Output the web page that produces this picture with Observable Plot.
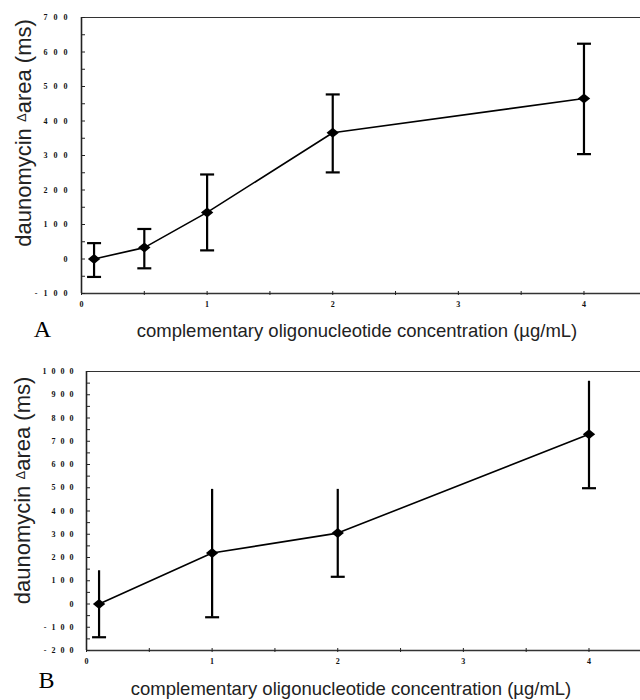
<!DOCTYPE html>
<html><head><meta charset="utf-8">
<script src="https://cdn.jsdelivr.net/npm/d3@7"></script>
<script src="https://cdn.jsdelivr.net/npm/@observablehq/plot@0.6"></script>
<style>
body{margin:0;background:#fff}
#chart{position:relative;width:640px;height:700px;overflow:hidden}
#chart svg{display:block}
</style>
</head><body><div id="chart"></div>
<script>
// Panel A data
const concA = [0.1, 0.5, 1, 2, 4];
const areaA = [0, 33, 135, 366, 465];
const hiA   = [46, 87, 245, 477, 624];
const loA   = [-52, -27, 25, 251, 304];
// Panel B data
const concB = [0.1, 1, 2, 4];
const areaB = [0, 219, 305, 730];
const hiB   = [143, 493, 493, 958];
const loB   = [-143, -57, 117, 498];
// ticks and labels
const yTicksA = [-100, 0, 100, 200, 300, 400, 500, 600, 700];
const yTicksB = [-200, -100, 0, 100, 200, 300, 400, 500, 600, 700, 800, 900, 1000];
const xTickLabels = [0, 1, 2, 3, 4];
const xMinorTicks = [0, 0.5, 1, 1.5, 2, 2.5, 3, 3.5, 4];
const xTitle = "complementary oligonucleotide concentration (µg/mL)";
const yTitle = "daunomycin Δarea (ms)";

const capSymbol = {draw(ctx){ ctx.moveTo(-7, 0); ctx.lineTo(7, 0); }};
const diamondSymbol = {draw(ctx){ ctx.moveTo(0, -5); ctx.lineTo(6.2, 0); ctx.lineTo(0, 5); ctx.lineTo(-6.2, 0); ctx.closePath(); }};

const tickFont = {fontFamily: "Liberation Serif", fontSize: 8, fontWeight: "bold"};

function panel(cfg) {
  const idx = d3.range(cfg.conc.length);
  const [y0, y1] = cfg.yDomain;
  const marks = [
    Plot.ruleY([y1], {stroke: "#333", strokeWidth: 1.2}),
    Plot.ruleY([y0], {stroke: "#333", strokeWidth: 1.3}),
    Plot.ruleX([0], {stroke: "#222", strokeWidth: 1.6}),
    Plot.axisY(d3.range(y0, y1 + 1, 50), {tickSize: 4, dx: 4, tickFormat: () => "", label: null, stroke: "#222"}),
    Plot.axisY(cfg.yTicks, {tickSize: 0, tickPadding: cfg.yPad, tickFormat: d => String(d), label: null, fill: "#111", ...tickFont}),
    Plot.axisX(xMinorTicks, {tickSize: 4, dy: -2, tickFormat: () => "", label: null, stroke: "#222"}),
    Plot.axisX(xTickLabels, {tickSize: 0, tickPadding: 8, tickFormat: d => String(d), label: null, fill: "#111", ...tickFont}),
    Plot.ruleX(idx, {x: i => cfg.conc[i], y1: i => cfg.lo[i], y2: i => cfg.hi[i], stroke: "#000", strokeWidth: 2.2}),
    Plot.line(idx, {x: i => cfg.conc[i], y: i => cfg.area[i], stroke: "#000", strokeWidth: 1.6}),
    Plot.dot(idx, {x: i => cfg.conc[i], y: i => cfg.lo[i], symbol: capSymbol, stroke: "#000", strokeWidth: 2.2, fill: "none"}),
  ];
  if (cfg.topCaps) marks.push(Plot.dot(idx, {x: i => cfg.conc[i], y: i => cfg.hi[i], symbol: capSymbol, stroke: "#000", strokeWidth: 2.2, fill: "none"}));
  marks.push(
    Plot.dot(idx, {x: i => cfg.conc[i], y: i => cfg.area[i], symbol: diamondSymbol, fill: "#000", stroke: "none"}),
    Plot.text([yTitle], {frameAnchor: "left", textAnchor: "middle", lineAnchor: "middle", rotate: -90, dx: cfg.yTitleDx, dy: cfg.yTitleDy, fontFamily: "Liberation Sans", fontSize: 22, fill: "#222", className: "ytitle"}),
    Plot.text([xTitle], {frameAnchor: "bottom", textAnchor: "middle", lineAnchor: "middle", dx: cfg.xTitleDx, dy: cfg.xTitleDy, fontFamily: "Liberation Sans", fontSize: 18.5, fill: "#222"}),
    Plot.text([cfg.letter], {frameAnchor: "bottom-left", textAnchor: "middle", lineAnchor: "middle", dx: cfg.letterDx, dy: cfg.letterDy, fontFamily: "Liberation Serif", fontSize: 24, fill: "#000"})
  );
  const svg = Plot.plot({
    width: 640, height: 350,
    marginLeft: cfg.ml, marginRight: 0, marginTop: cfg.mt, marginBottom: cfg.mb,
    x: {domain: cfg.xDomain},
    y: {domain: cfg.yDomain},
    style: {background: "#fff"},
    marks
  });
  svg.querySelectorAll('[aria-label="y-axis tick label"]').forEach(g => g.setAttribute("letter-spacing", cfg.ls));
  svg.querySelectorAll("text").forEach(t => {
    if (t.textContent === yTitle) {
      const s = d3.select(t);
      s.text(null);
      s.append("tspan").text("daunomycin ");
      s.append("tspan").attr("font-size", 13).attr("dy", -5).text("Δ");
      s.append("tspan").attr("dy", 5).text("area (ms)");
    }
  });
  return svg;
}

const chart = document.getElementById("chart");
chart.append(panel({
  conc: concA, area: areaA, hi: hiA, lo: loA, topCaps: true,
  yDomain: [-100, 700], xDomain: [0, 4.45], yTicks: yTicksA,
  ml: 81, mt: 17, mb: 57, yPad: 8, ls: 6,
  yTitleDx: -58, yTitleDy: -22.5, xTitleDx: -4, xTitleDy: 38,
  letter: "A", letterDx: -39, letterDy: 36
}));
chart.append(panel({
  conc: concB, area: areaB, hi: hiB, lo: loB, topCaps: false,
  yDomain: [-200, 1000], xDomain: [0, 4.41], yTicks: yTicksB,
  ml: 86, mt: 21, mb: 50, yPad: 8, ls: 5,
  yTitleDx: -63.5, yTitleDy: -20.5, xTitleDx: -12.5, xTitleDy: 39,
  letter: "B", letterDx: -40, letterDy: 30
}));
</script>
</body></html>
